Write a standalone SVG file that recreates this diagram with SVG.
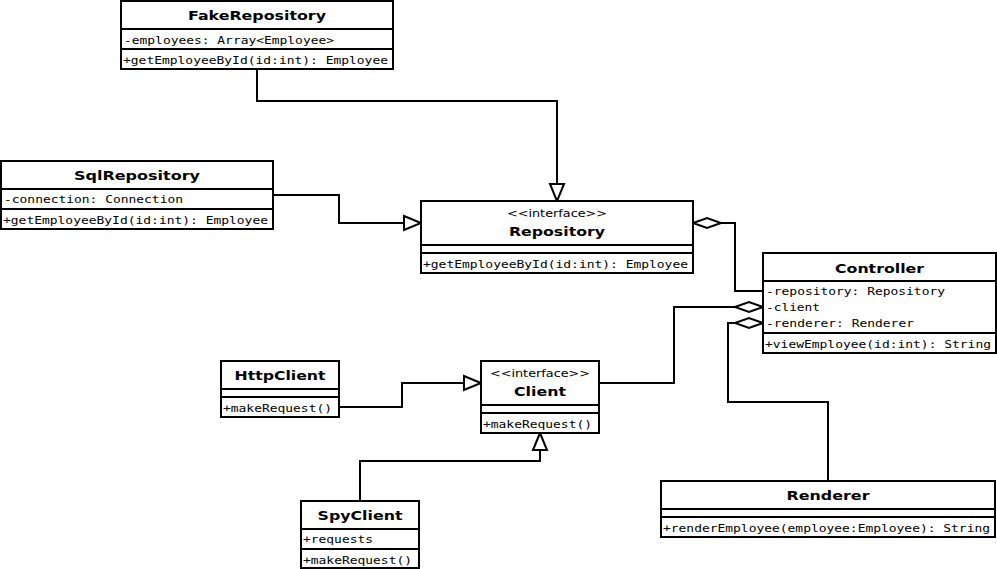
<svg xmlns="http://www.w3.org/2000/svg" width="997" height="569" viewBox="0 0 997 569">
<style>
.box{fill:#fff;stroke:#000;stroke-width:2}
.sep{stroke:#000;stroke-width:2}
.t{font-family:"DejaVu Sans",sans-serif;font-weight:bold;font-size:13px;text-anchor:middle}
.st{font-family:"DejaVu Sans",sans-serif;font-size:10px;text-anchor:middle}
.m{font-family:"DejaVu Sans Mono",monospace;font-size:11px}
.c{fill:none;stroke:#000;stroke-width:2}
</style>
<defs>
<marker id="tri" markerUnits="userSpaceOnUse" markerWidth="20" markerHeight="16" refX="18" refY="8" orient="auto" overflow="visible">
<path d="M1,1 L18,8 L1,15 Z" fill="#fff" stroke="#000" stroke-width="2"/>
</marker>
<marker id="dia" markerUnits="userSpaceOnUse" markerWidth="30" markerHeight="12" refX="28" refY="6" orient="auto" overflow="visible">
<path d="M0,6 L14,1 L28,6 L14,11 Z" fill="#fff" stroke="#000" stroke-width="2"/>
</marker>
</defs>
<g id="connectors">
<path class="c" d="M257,69 V101 H557 V201" marker-end="url(#tri)"/>
<path class="c" d="M273,195 H339 V223 H421" marker-end="url(#tri)"/>
<path class="c" d="M763,291 H735 V223 H693" marker-end="url(#dia)"/>
<path class="c" d="M599,383 H674 V307 H763" marker-end="url(#dia)"/>
<path class="c" d="M828,481 V402 H728 V323 H763" marker-end="url(#dia)"/>
<path class="c" d="M339,407 H402 V383 H481" marker-end="url(#tri)"/>
<path class="c" d="M360,501 V461 H540 V433" marker-end="url(#tri)"/>
</g>
<g id="FakeRepository">
<rect class="box" x="121" y="1" width="272" height="68"/>
<line class="sep" x1="121" y1="29" x2="393" y2="29"/>
<line class="sep" x1="121" y1="49" x2="393" y2="49"/>
<text class="t" x="257" y="20" textLength="138" lengthAdjust="spacingAndGlyphs">FakeRepository</text>
<text class="m" x="124" y="43.5" textLength="210" lengthAdjust="spacingAndGlyphs">-employees: Array&lt;Employee&gt;</text>
<text class="m" x="123" y="63.5" textLength="265" lengthAdjust="spacingAndGlyphs">+getEmployeeById(id:int): Employee</text>
</g>
<g id="SqlRepository">
<rect class="box" x="1" y="161" width="272" height="68"/>
<line class="sep" x1="1" y1="189" x2="273" y2="189"/>
<line class="sep" x1="1" y1="209" x2="273" y2="209"/>
<text class="t" x="137" y="180" textLength="126" lengthAdjust="spacingAndGlyphs">SqlRepository</text>
<text class="m" x="4" y="203" textLength="179" lengthAdjust="spacingAndGlyphs">-connection: Connection</text>
<text class="m" x="3" y="223.5" textLength="265" lengthAdjust="spacingAndGlyphs">+getEmployeeById(id:int): Employee</text>
</g>
<g id="Repository">
<rect class="box" x="421" y="201" width="272" height="72"/>
<line class="sep" x1="421" y1="245" x2="693" y2="245"/>
<line class="sep" x1="421" y1="253" x2="693" y2="253"/>
<text class="st" x="557" y="216.5" textLength="100" lengthAdjust="spacingAndGlyphs">&lt;&lt;interface&gt;&gt;</text>
<text class="t" x="557" y="236" textLength="96" lengthAdjust="spacingAndGlyphs">Repository</text>
<text class="m" x="423" y="267.5" textLength="265" lengthAdjust="spacingAndGlyphs">+getEmployeeById(id:int): Employee</text>
</g>
<g id="Controller">
<rect class="box" x="763" y="253" width="233" height="100"/>
<line class="sep" x1="763" y1="281" x2="996" y2="281"/>
<line class="sep" x1="763" y1="333" x2="996" y2="333"/>
<text class="t" x="879.5" y="272.5" textLength="89" lengthAdjust="spacingAndGlyphs">Controller</text>
<text class="m" x="766" y="294.5" textLength="179" lengthAdjust="spacingAndGlyphs">-repository: Repository</text>
<text class="m" x="766" y="310.5" textLength="54" lengthAdjust="spacingAndGlyphs">-client</text>
<text class="m" x="766" y="326.5" textLength="148" lengthAdjust="spacingAndGlyphs">-renderer: Renderer</text>
<text class="m" x="765" y="347.5" textLength="226" lengthAdjust="spacingAndGlyphs">+viewEmployee(id:int): String</text>
</g>
<g id="HttpClient">
<rect class="box" x="221" y="361" width="118" height="56"/>
<line class="sep" x1="221" y1="389" x2="339" y2="389"/>
<line class="sep" x1="221" y1="397" x2="339" y2="397"/>
<text class="t" x="280" y="380" textLength="91" lengthAdjust="spacingAndGlyphs">HttpClient</text>
<text class="m" x="223" y="411.5" textLength="109" lengthAdjust="spacingAndGlyphs">+makeRequest()</text>
</g>
<g id="Client">
<rect class="box" x="481" y="361" width="118" height="72"/>
<line class="sep" x1="481" y1="405" x2="599" y2="405"/>
<line class="sep" x1="481" y1="413" x2="599" y2="413"/>
<text class="st" x="540" y="376.5" textLength="100" lengthAdjust="spacingAndGlyphs">&lt;&lt;interface&gt;&gt;</text>
<text class="t" x="540" y="396" textLength="52" lengthAdjust="spacingAndGlyphs">Client</text>
<text class="m" x="483" y="427.5" textLength="109" lengthAdjust="spacingAndGlyphs">+makeRequest()</text>
</g>
<g id="SpyClient">
<rect class="box" x="301" y="501" width="118" height="67"/>
<line class="sep" x1="301" y1="529" x2="419" y2="529"/>
<line class="sep" x1="301" y1="549" x2="419" y2="549"/>
<text class="t" x="360" y="520" textLength="85" lengthAdjust="spacingAndGlyphs">SpyClient</text>
<text class="m" x="303" y="543" textLength="70" lengthAdjust="spacingAndGlyphs">+requests</text>
<text class="m" x="303" y="563.5" textLength="109" lengthAdjust="spacingAndGlyphs">+makeRequest()</text>
</g>
<g id="Renderer">
<rect class="box" x="661" y="481" width="334" height="56"/>
<line class="sep" x1="661" y1="509" x2="995" y2="509"/>
<line class="sep" x1="661" y1="517" x2="995" y2="517"/>
<text class="t" x="828" y="500" textLength="83" lengthAdjust="spacingAndGlyphs">Renderer</text>
<text class="m" x="663" y="531.5" textLength="327" lengthAdjust="spacingAndGlyphs">+renderEmployee(employee:Employee): String</text>
</g>
</svg>
